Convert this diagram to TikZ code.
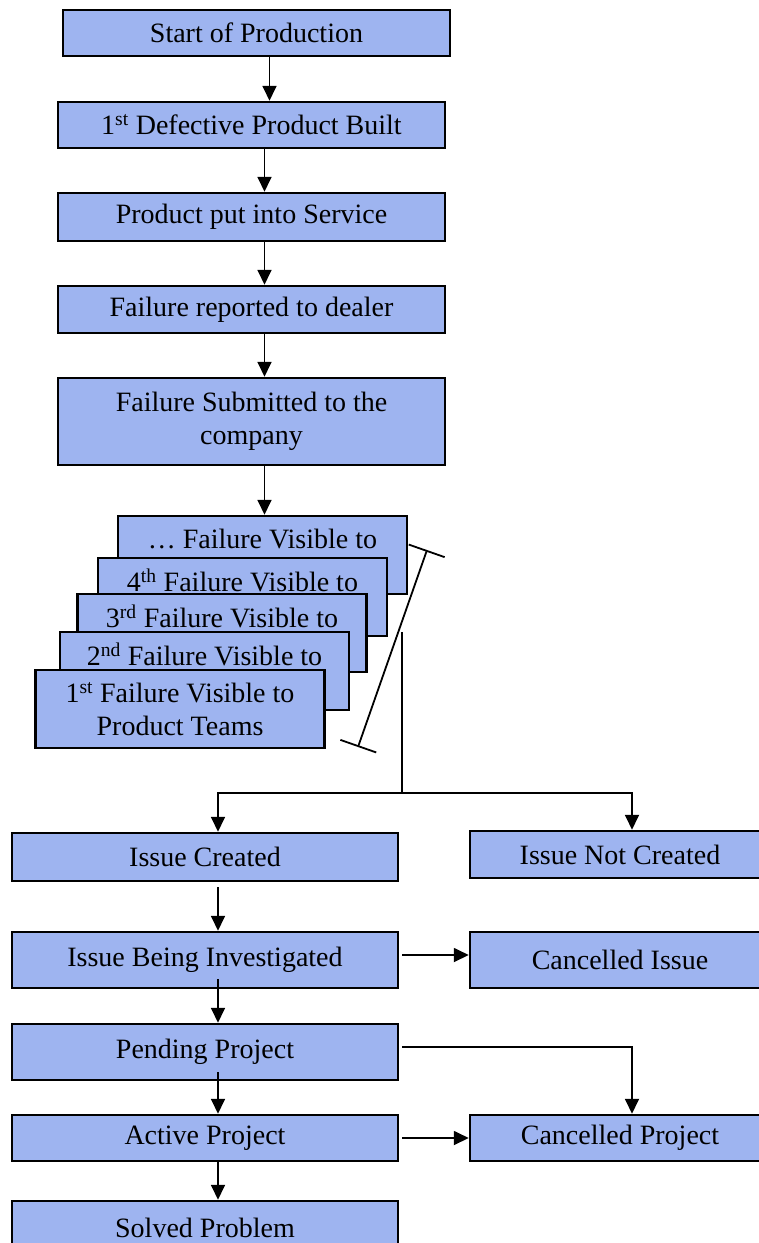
\documentclass[tikz,border=0pt]{standalone}
\usepackage{fontspec}
\setmainfont{Liberation Serif}
\usepackage{tikz}
\usetikzlibrary{shapes,arrows.meta}
\definecolor{boxblue}{RGB}{158,180,240}
\tikzstyle{block} = [draw, line width=2.5pt, fill=boxblue, rectangle, inner sep=0pt,
    minimum height=46pt, minimum width=387pt, align=center,
    font=\fontsize{28}{33}\selectfont]
\tikzstyle{visible} = [block, minimum width=289pt, minimum height=78pt]
\tikzstyle{side} = [block, minimum width=300pt]
\tikzstyle{line} = [draw, line width=1.8pt]

\begin{document}
\begin{tikzpicture}[x=1pt, y=-1pt, >={Triangle[length=15pt,width=14pt]}]
    \clip (0,0) rectangle (759,1243);
    \useasboundingbox (0,0) rectangle (759,1243);
    \node [block] (startProd) at (256.5,33) {Start of Production};
    \node [block] (defectBuilt) at (251.5,125) {1\textsuperscript{st} Defective Product Built};
    \draw [line,->] ([xshift=13pt]startProd.south) -- ([xshift=13pt]startProd.south |- defectBuilt.north);
    \node [block, minimum height=48pt] (inService) at (251.5,217) {Product put into Service};
    \draw [line,->] ([xshift=13pt]defectBuilt.south) -- ([xshift=13pt]defectBuilt.south |- inService.north);
    \node [block, minimum height=47pt] (toDealer) at (251.5,309.5) {Failure reported to dealer};
    \draw [line,->] ([xshift=13pt]inService.south) -- ([xshift=13pt]inService.south |- toDealer.north);
    \node [block, minimum height=87pt] (toCompany) at (251.5,421.5) {Failure Submitted to the\\company};
    \draw [line,->] ([xshift=13pt]toDealer.south) -- ([xshift=13pt]toDealer.south |- toCompany.north);
    % stacked failures, back to front
    \node [visible] (visibleN) at (262.5,555) {… Failure Visible to\\\vphantom{Product Teams}};
    \draw [line,->] ([xshift=13pt]toCompany.south) -- ([xshift=13pt]toCompany.south |- visibleN.north);
    \node [visible] (visibleFour) at (242.5,597) {4\textsuperscript{th} Failure Visible to\\\vphantom{Product Teams}};
    \node [visible] (visibleThree) at (222,633) {3\textsuperscript{rd} Failure Visible to\\\vphantom{Product Teams}};
    \node [visible] (visibleTwo) at (204.5,671) {2\textsuperscript{nd} Failure Visible to\\\vphantom{Product Teams}};
    \node [visible] (visibleOne) at (180,709) {1\textsuperscript{st} Failure Visible to\\Product Teams};
    % bracket round the stack
    \coordinate (bracketTop) at (427,550);
    \coordinate (bracketBottom) at (358,747);
    \draw [line, {Bar[width=38pt]}-{Bar[width=38pt]}] (bracketBottom) -- (bracketTop);
    \coordinate (split) at (402,632);
    \coordinate (fork) at (402,793);
    \draw [line] (split) -- (fork);
    \node [block, minimum width=386pt, minimum height=48pt] (issueCreated) at (205,857) {Issue Created};
    \node [side, minimum height=47pt] (issueNotCreated) at (620,854.5) {Issue Not Created};
    \draw [line,->] (fork) -| ([xshift=13pt]issueCreated.north);
    \draw [line,->] (fork) -| ([xshift=12pt]issueNotCreated.north);
    \node [block, minimum width=386pt, minimum height=56pt] (investigated) at (205,960) {Issue Being Investigated};
    \draw [line,->] ([xshift=13pt,yshift=-5pt]issueCreated.south) -- ([xshift=13pt]issueCreated.south |- investigated.north);
    \node [side, minimum height=56pt] (cancelledIssue) at (620,960) {Cancelled Issue};
    \draw [line,->] ([xshift=3pt,yshift=5pt]investigated.east) -- ([yshift=5pt]cancelledIssue.west);
    \node [block, minimum width=386pt, minimum height=56pt] (pendingProject) at (205,1052) {Pending Project};
    \draw [line,->] ([xshift=13pt,yshift=10pt]investigated.south) -- ([xshift=13pt]investigated.south |- pendingProject.north);
    \node [block, minimum width=386pt] (activeProject) at (205,1138) {Active Project};
    \draw [line,->] ([xshift=13pt,yshift=9pt]pendingProject.south) -- ([xshift=13pt]pendingProject.south |- activeProject.north);
    \node [side] (cancelledProject) at (620,1138) {Cancelled Project};
    \draw [line,->] ([xshift=3pt,yshift=5pt]pendingProject.east) -| ([xshift=12pt]cancelledProject.north);
    \draw [line,->] ([xshift=3pt]activeProject.east) -- (cancelledProject.west);
    \node [block, minimum width=386pt, minimum height=54pt] (solvedProblem) at (205,1228) {Solved Problem};
    \draw [line,->] ([xshift=13pt]activeProject.south) -- ([xshift=13pt]activeProject.south |- solvedProblem.north);
\end{tikzpicture}
\end{document}
